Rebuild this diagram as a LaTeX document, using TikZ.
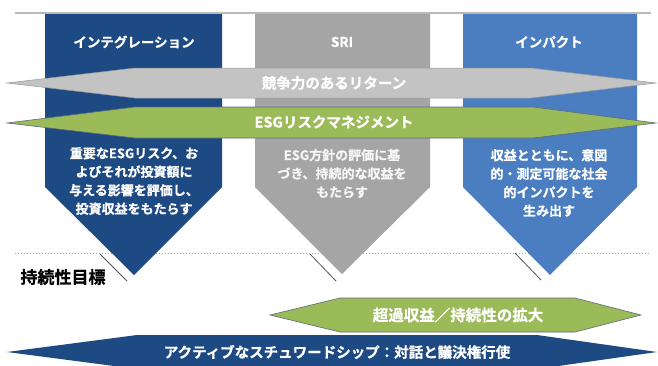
\documentclass[tikz,border=0pt]{standalone}
\usepackage{fontspec}
\setmainfont{Noto Sans CJK JP}[BoldFont={Noto Sans CJK JP Bold},BoldFeatures={FakeBold=0.8}]
\definecolor{navy}{HTML}{1E4A84}
\definecolor{colgray}{HTML}{A5A5A5}
\definecolor{colblue}{HTML}{4A7EC0}
\definecolor{argray}{HTML}{C3C3C3}
\definecolor{argreen}{HTML}{9BBB59}
\definecolor{edge}{HTML}{5C6B7C}
\begin{document}
\begin{tikzpicture}[x=1pt,y=-1pt,
  title/.style={text=white,font=\bfseries\fontsize{13.5}{16}\selectfont},
  body/.style={text=white,align=center,font=\bfseries\fontsize{13}{18.5}\selectfont},
  bandtext/.style={text=white,font=\bfseries\fontsize{14.5}{16}\selectfont},
  shadowline/.style={draw=edge!80!black,line width=0.8pt}]
\useasboundingbox (0,0) rectangle (658,365);
\clip (0,0) rectangle (658,365);
\fill[white] (0,0) rectangle (658,365);
% top rule and dotted rule
\coordinate (tl) at (15,13); \coordinate (tr) at (651,13);
\draw[draw=gray!55,line width=1.3pt] (tl) -- (tr);
\coordinate (dl) at (15,253); \coordinate (dr) at (651,253);
\draw[draw=gray!70,line width=1pt,dotted] (dl) -- (dr);
% short diagonal lines
\coordinate (s1a) at (100,254); \coordinate (s1b) at (127,281);
\coordinate (s2a) at (310,254); \coordinate (s2b) at (336,281);
\coordinate (s3a) at (515,253); \coordinate (s3b) at (541,280);
\draw[shadowline] (s1a) -- (s1b);
\draw[shadowline] (s2a) -- (s2b);
\draw[shadowline] (s3a) -- (s3b);
% columns
\fill[navy] (45,14) -- (222,14) -- (222,187) -- (134,275) -- (45,187) -- cycle;
\fill[colgray] (255,14) -- (430,14) -- (430,187) -- (342,274) -- (255,187) -- cycle;
\fill[colblue] (463,14) -- (637,14) -- (637,187) -- (550,275) -- (463,187) -- cycle;
% band arrows
\filldraw[fill=argray,draw=gray!80,line width=0.5pt] (7,83) -- (135,68) -- (531,68) -- (656,83) -- (531,98) -- (135,98) -- cycle;
\filldraw[fill=argreen,draw=edge,line width=0.6pt] (7,123) -- (135,107) -- (533,107) -- (656,123) -- (533,138) -- (135,138) -- cycle;
\filldraw[fill=argreen,draw=edge,line width=0.6pt] (270,315) -- (340,298) -- (575,298) -- (641,315) -- (575,332) -- (340,332) -- cycle;
\fill[navy] (7,352) -- (137,335) -- (537,335) -- (657,352) -- (537,369) -- (137,369) -- cycle;
% texts
\node[title] (t1) at (134,42) {インテグレーション};
\node[title] (t2) at (342,42) {SRI};
\node[title] (t3) at (549,42) {インパクト};
\node[bandtext] (b1) at (334,83) {競争力のあるリターン};
\node[bandtext] (b2) at (334,122) {ESGリスクマネジメント};
\node[body] (c1) at (134,181) {重要なESGリスク、お\\よびそれが投資額に\\与える影響を評価し、\\投資収益をもたらす};
\node[body,text=white!93!gray] (c2) at (342,173.5) {ESG方針の評価に基\\づき、持続的な収益を\\もたらす};
\node[body] (c3) at (549,183) {収益とともに、意図\\的・測定可能な社会\\的インパクトを\\生み出す};
\node[font=\bfseries\fontsize{17}{19}\selectfont,text=black] (goal) at (63,277) {持続性目標};
\node[bandtext,font=\bfseries\fontsize{15.5}{18}\selectfont] (b3) at (458,315) {超過収益／持続性の拡大};
\node[bandtext] (b4) at (337,352) {アクティブなスチュワードシップ：対話と議決権行使};
\end{tikzpicture}
\end{document}
